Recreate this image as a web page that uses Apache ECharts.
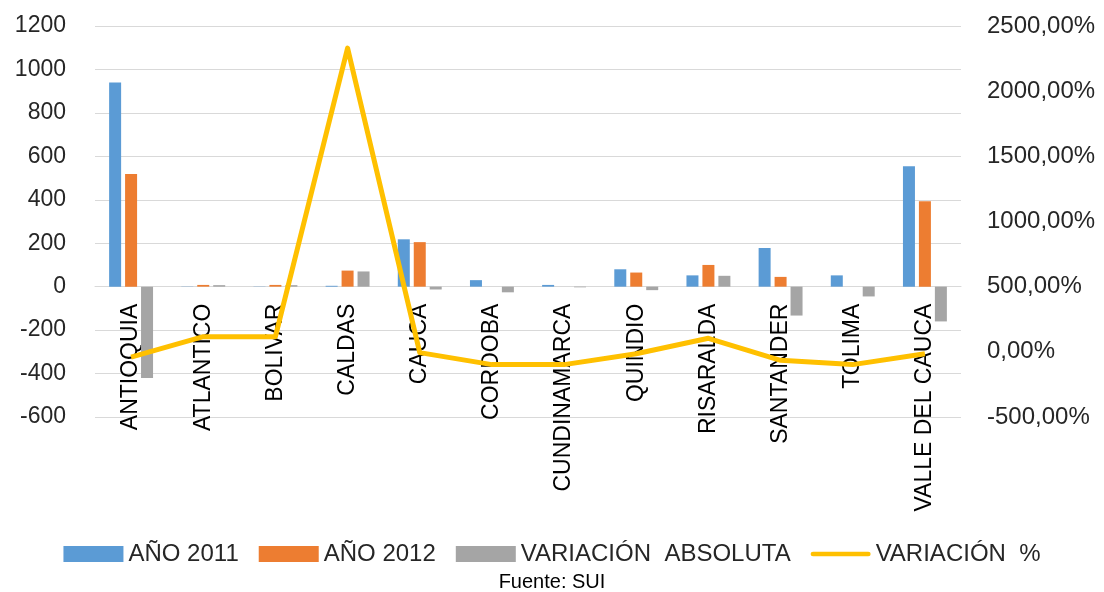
<!DOCTYPE html>
<html>
<head>
<meta charset="utf-8">
<script src="https://cdn.jsdelivr.net/npm/echarts@6/dist/echarts.min.js"></script>
<style>html,body{margin:0;padding:0;background:#fff}#c{width:1104px;height:592px}</style>
</head>
<body>
<div id="c"></div>
<script>
const categories = ['ANTIOQUIA','ATLANTICO','BOLIVAR','CALDAS','CAUCA','CORDOBA','CUNDINAMARCA','QUINDIO','RISARALDA','SANTANDER','TOLIMA','VALLE DEL CAUCA'];
const anio2011 = [940, 1, 1, 4, 218, 30, 8, 80, 52, 178, 52, 554];
const anio2012 = [519, 8, 8, 74, 205, 0, 0, 65, 100, 45, 0, 393];
const variacionAbs = [-421, 7, 7, 70, -13, -26, -3, -16, 50, -133, -45, -160];
const variacionPct = [-40, 116, 116, 2330, -6, -98, -98, -15, 104, -65, -98, -15];
const leftTicks = {min: -600, max: 1200, interval: 200};
const rightTicks = {min: -500, max: 2500, interval: 500};

const font = '"Liberation Sans", Arial, sans-serif';
const GRID_TOP = 26, GRID_BOTTOM = 175, H = 592;
const plotH = H - GRID_TOP - GRID_BOTTOM;
// shift the category axis up so it sits on the zero line of the left axis
const zeroOffset = -plotH * (0 - leftTicks.min) / (leftTicks.max - leftTicks.min);

const chart = echarts.init(document.getElementById('c'), null, {renderer: 'canvas'});
chart.setOption({
  animation: false,
  backgroundColor: '#fff',
  title: {
    text: 'Fuente: SUI',
    left: 'center',
    top: 572,
    padding: 0,
    textStyle: {fontFamily: font, fontSize: 20, fontWeight: 'normal', color: '#000', lineHeight: 20}
  },
  legend: {
    top: 537,
    left: 'center',
    itemWidth: 60,
    itemHeight: 16,
    itemGap: 20,
    textStyle: {fontFamily: font, fontSize: 24, color: '#262626'},
    data: [
      {name: 'AÑO 2011', icon: 'rect'},
      {name: 'AÑO 2012', icon: 'rect'},
      {name: 'VARIACIÓN  ABSOLUTA', icon: 'rect'},
      {name: 'VARIACIÓN  %', icon: 'path://M2.5,0 H61.5 A2.5,2.5 0 0 1 61.5,5 H2.5 A2.5,2.5 0 0 1 2.5,0 Z', itemStyle: {color: '#FFC000'}}
    ]
  },
  grid: {left: 95, right: 143, top: GRID_TOP, bottom: GRID_BOTTOM, containLabel: false, outerBoundsMode: 'none'},
  xAxis: {
    type: 'category',
    data: categories,
    offset: zeroOffset,
    axisLine: {onZero: false, lineStyle: {color: '#d9d9d9', width: 1}},
    axisTick: {show: false},
    axisLabel: {rotate: 90, margin: 17, interval: 0, fontFamily: font, fontSize: 23, color: '#000'}
  },
  yAxis: [
    {
      type: 'value',
      min: leftTicks.min, max: leftTicks.max, interval: leftTicks.interval,
      axisLine: {show: false}, axisTick: {show: false},
      splitLine: {lineStyle: {color: '#d9d9d9', width: 1}},
      axisLabel: {margin: 29, fontFamily: font, fontSize: 23, color: '#262626', formatter: v => String(v)}
    },
    {
      type: 'value',
      min: rightTicks.min, max: rightTicks.max, interval: rightTicks.interval,
      axisLine: {show: false}, axisTick: {show: false},
      splitLine: {show: false},
      axisLabel: {
        margin: 26, fontFamily: font, fontSize: 24, color: '#262626',
        formatter: v => v.toFixed(2).replace('.', ',') + '%'
      }
    }
  ],
  series: [
    {name: 'AÑO 2011', type: 'bar', data: anio2011, barWidth: 12, barGap: '33%', itemStyle: {color: '#5B9BD5'}},
    {name: 'AÑO 2012', type: 'bar', data: anio2012, barWidth: 12, barGap: '33%', itemStyle: {color: '#ED7D31'}},
    {name: 'VARIACIÓN  ABSOLUTA', type: 'bar', data: variacionAbs, barWidth: 12, barGap: '33%', itemStyle: {color: '#A5A5A5'}},
    {name: 'VARIACIÓN  %', type: 'line', yAxisIndex: 1, data: variacionPct, symbol: 'none',
     lineStyle: {color: '#FFC000', width: 5, join: 'round'}, itemStyle: {color: '#FFC000'}, z: 5}
  ]
});
</script>
</body>
</html>
